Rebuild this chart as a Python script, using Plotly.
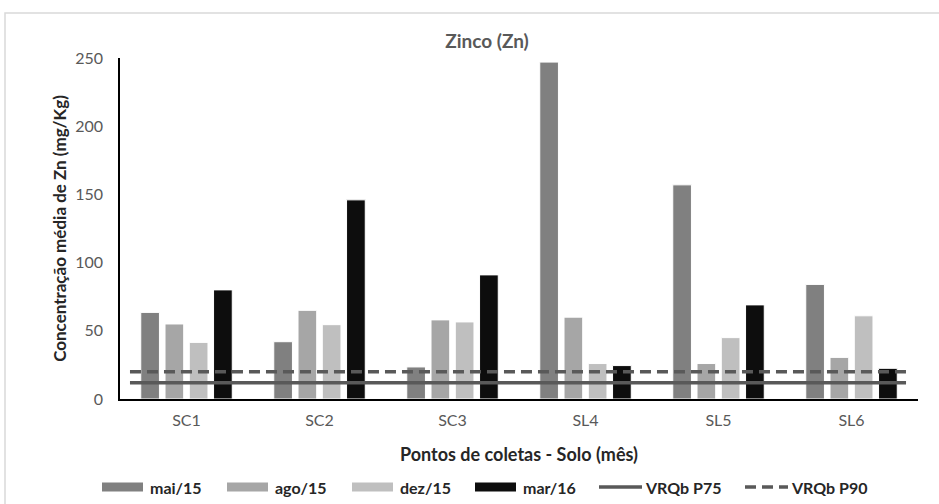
import plotly.graph_objects as go

# Sampling points and mean Zn concentration (mg/Kg) per campaign
pontos = ["SC1", "SC2", "SC3", "SL4", "SL5", "SL6"]
mai15 = [63.5, 42, 23.5, 247, 157, 84]
ago15 = [55, 65, 58, 60, 26, 30.5]
dez15 = [41.5, 54.5, 56.5, 26, 45, 61]
mar16 = [80, 146, 91, 24.5, 69, 22.5]

# Quality reference values (VRQ)
vrq_p75 = 12
vrq_p90 = 20

series = [
    ("mai/15", mai15, "#808080"),
    ("ago/15", ago15, "#a6a6a6"),
    ("dez/15", dez15, "#bfbfbf"),
    ("mar/16", mar16, "#0d0d0d"),
]
ref_lines = [
    ("VRQb P75", vrq_p75, "solid"),
    ("VRQb P90", vrq_p90, "11px,6px"),
]
LINE_COLOR = "#595959"

FONT = "Lato, 'Open Sans', sans-serif"

# Figure geometry (pixels)
W, H = 939, 504
L, R, T, B = 120, 21, 58, 105
PW, PH = W - L - R, H - T - B


def px_x(x):
    return (x - L) / PW


def px_y(y):
    return (H - B - y) / PH


fig = go.Figure()
for name, vals, color in series:
    fig.add_trace(go.Bar(
        x=pontos, y=vals, name=name, showlegend=False,
        marker=dict(color=color, line=dict(color="white", width=1)),
    ))

# Reference lines drawn across the plot on an overlaid unit axis
for name, val, dash in ref_lines:
    fig.add_trace(go.Scatter(
        x=[0.0125, 0.985], y=[val, val], mode="lines", name=name,
        showlegend=False, line=dict(color=LINE_COLOR, width=3.5, dash=dash),
        xaxis="x2",
    ))

# Legend built from wide swatches and bold labels along the bottom
shapes = [dict(
    type="rect", xref="paper", yref="paper",
    x0=px_x(5), x1=1.1, y0=-0.5, y1=px_y(13),
    line=dict(color="#d9d9d9", width=1.5), fillcolor="rgba(0,0,0,0)",
    layer="below",
)]
annotations = []
leg_y = 487
sw = 41
entries = [(n, c, None) for n, _, c in series] + [(n, LINE_COLOR, d) for n, _, d in ref_lines]
starts = [102, 227, 352, 475, 599, 745]
for (name, color, dash), x0 in zip(entries, starts):
    if dash is None:
        shapes.append(dict(
            type="rect", xref="paper", yref="paper",
            x0=px_x(x0), x1=px_x(x0 + sw), y0=px_y(leg_y + 4.5), y1=px_y(leg_y - 4.5),
            fillcolor=color, line=dict(width=0),
        ))
    else:
        shapes.append(dict(
            type="line", xref="paper", yref="paper",
            x0=px_x(x0), x1=px_x(x0 + sw + 2), y0=px_y(leg_y), y1=px_y(leg_y),
            line=dict(color=color, width=3.5, dash=dash),
        ))
    annotations.append(dict(
        text=f"<b>{name}</b>", xref="paper", yref="paper",
        x=px_x(x0 + sw + (3 if dash else 5)), y=px_y(leg_y),
        xanchor="left", yanchor="middle", showarrow=False,
        font=dict(family=FONT, size=16, color="#262626"),
    ))

fig.update_layout(
    width=W, height=H,
    margin=dict(l=L, r=R, t=T, b=B, autoexpand=False),
    paper_bgcolor="white", plot_bgcolor="white",
    font=dict(family=FONT, color="#595959", size=14),
    barmode="group", bargap=0.27, bargroupgap=0.23,
    showlegend=False,
    title=dict(
        text="<b>Zinco (Zn)</b>", x=487 / W, xanchor="center", xref="container",
        y=1 - 41 / H, yref="container", yanchor="middle",
        font=dict(family=FONT, size=19, color="#595959"),
    ),
    xaxis=dict(
        showline=True, linecolor="#000000", linewidth=1.5,
        showgrid=False, ticks="", tickfont=dict(size=16, color="#595959"),
        ticklabelstandoff=6,
        title=dict(text="<b>Pontos de coletas - Solo (mês)</b>",
                   font=dict(size=18, color="#262626"), standoff=20),
    ),
    xaxis2=dict(overlaying="x", range=[0, 1], visible=False),
    yaxis=dict(
        range=[0, 250], dtick=50, showline=True, linecolor="#000000",
        linewidth=1.5, showgrid=False, ticks="", zeroline=False,
        tickfont=dict(size=16, color="#595959"), ticklabelstandoff=12,
        title=dict(text="<b>Concentração média de Zn (mg/Kg)</b>",
                   font=dict(size=17, color="#262626"), standoff=4),
    ),
    shapes=shapes,
    annotations=annotations,
)

fig.write_html("out.html")
